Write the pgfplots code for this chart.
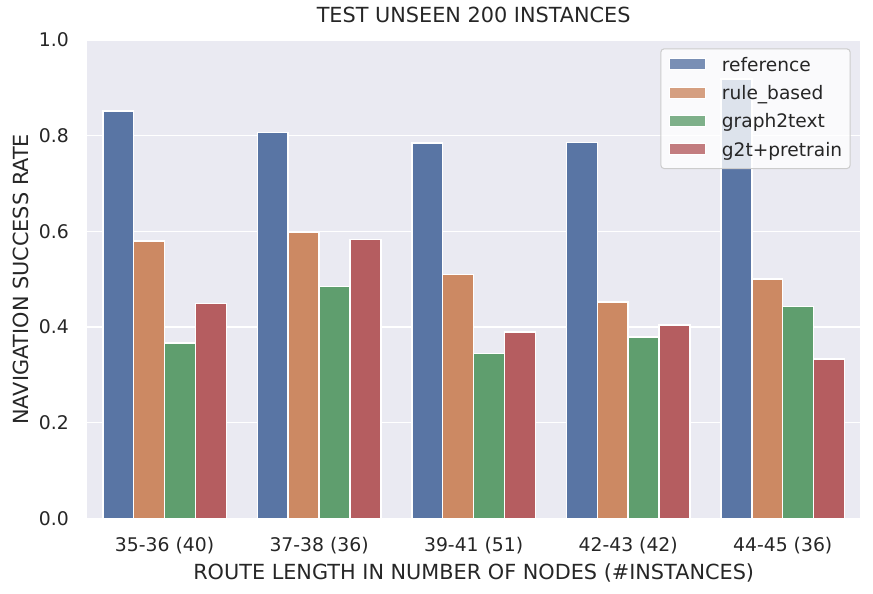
\documentclass[border=0pt]{standalone}
\usepackage{pgfplots}
\pgfplotsset{compat=1.18}
\usepackage{fontspec}
\setmainfont{DejaVu Sans}
\definecolor{bg}{HTML}{EAEAF2}
\definecolor{c1}{HTML}{5975A4}
\definecolor{c2}{HTML}{CC8963}
\definecolor{c3}{HTML}{5F9E6E}
\definecolor{c4}{HTML}{B55D60}
\definecolor{tc}{HTML}{262626}
\definecolor{lg}{HTML}{CCCCCC}
\begin{document}
\begin{tikzpicture}
\begin{axis}[
  at={(0,0)}, anchor=south west,
  scale only axis, width=772.7bp, height=478.5bp,
  xmin=-0.5, xmax=4.5, ymin=0, ymax=1,
  axis background/.style={fill=bg},
  axis line style={draw=none},
  major tick length=0pt,
  ymajorgrids,
  major grid style={white, line width=1.3bp},
  ytick={0,0.2,0.4,0.6,0.8,1.0},
  xtick={0,1,2,3,4},
  xticklabels={35-36 (40),37-38 (36),39-41 (51),42-43 (42),44-45 (36)},
  /pgf/number format/assume math mode=true,
  yticklabel style={/pgf/number format/fixed, /pgf/number format/fixed zerofill,
    /pgf/number format/precision=1,
    font=\fontsize{18.8bp}{22bp}\selectfont, text=tc, anchor=east, inner sep=0pt, xshift=-18.3bp},
  xticklabel style={font=\fontsize{18.8bp}{22bp}\selectfont, text=tc,
    anchor=base, inner sep=0pt, yshift=-33.2bp},
  xlabel={ROUTE LENGTH IN NUMBER OF NODES (\#INSTANCES)},
  xlabel style={at={(axis description cs:0.5,-0.12644)}, anchor=base, inner sep=0pt,
    font=\fontsize{20.8bp}{25bp}\selectfont, text=tc},
  ylabel={NAVIGATION SUCCESS RATE},
  ylabel style={at={(axis description cs:-0.07636,0.5)}, anchor=base, inner sep=0pt,
    font=\fontsize{20.8bp}{24bp}\selectfont, text=tc},
  title={TEST UNSEEN 200 INSTANCES},
  title style={at={(axis description cs:0.5,1.02445)}, anchor=base, inner sep=0pt,
    font=\fontsize{20.8bp}{24bp}\selectfont, text=tc},
  legend style={at={(axis description cs:0.98796,0.98265)}, anchor=north east,
    fill=white, fill opacity=0.8, text opacity=1, draw=lg, line width=1bp,
    rounded corners=3.5bp, font=\fontsize{18.6bp}{22bp}\selectfont, text=tc,
    inner xsep=8bp, inner ysep=7.9bp, row sep=9.33bp, column sep=15.5bp,
    cells={anchor=west},
    nodes={inner sep=0pt, text height=14.5bp, text depth=4.5bp}},
  legend cell align=left,
  legend image code/.code={\draw[#1, sharp corners, line width=1bp] (0bp,-3.6bp) rectangle (36.6bp,7.4bp);},
]
\addplot[ybar, bar width=0.2, bar shift=-0.3, fill=c1, draw=white, line width=1.5bp]
  coordinates {(0,0.852) (1,0.807) (2,0.785) (3,0.786) (4,0.918)};
\addplot[ybar, bar width=0.2, bar shift=-0.1, fill=c2, draw=white, line width=1.5bp]
  coordinates {(0,0.580) (1,0.599) (2,0.510) (3,0.452) (4,0.500)};
\addplot[ybar, bar width=0.2, bar shift=0.1, fill=c3, draw=white, line width=1.5bp]
  coordinates {(0,0.367) (1,0.485) (2,0.345) (3,0.379) (4,0.443)};
\addplot[ybar, bar width=0.2, bar shift=0.3, fill=c4, draw=white, line width=1.5bp]
  coordinates {(0,0.449) (1,0.583) (2,0.390) (3,0.404) (4,0.333)};
\legend{reference,rule\_based,graph2text,g2t+pretrain}
\end{axis}
\pgfresetboundingbox
\path[use as bounding box] (-87.3bp,-75.5bp) rectangle (785.7bp,518.5bp);
\end{tikzpicture}
\end{document}
